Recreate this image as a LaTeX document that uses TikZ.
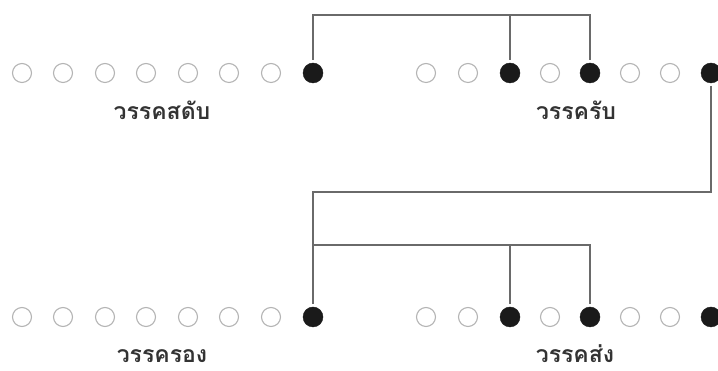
\documentclass[tikz,border=0pt]{standalone}
\usepackage{fontspec}
\newfontfamily\thaifont[Script=Thai]{Loma}
\definecolor{linegray}{HTML}{6A6A6A}
\definecolor{ringgray}{HTML}{B4B4B4}
\definecolor{dotblack}{HTML}{1A1A1A}
\begin{document}
\begin{tikzpicture}[x=1pt,y=1pt,
  open/.style={circle,draw=ringgray,line width=1.1pt,minimum size=19pt,inner sep=0pt,outer sep=4pt},
  full/.style={circle,fill=dotblack,draw=dotblack,minimum size=20pt,inner sep=0pt,outer sep=3pt},
  conn/.style={draw=linegray,line width=1.1pt},
  lbl/.style={font=\thaifont\bfseries\fontsize{23}{26}\selectfont,text=black!80,inner sep=0pt,text depth=0pt,anchor=base}]
\useasboundingbox (0,0) rectangle (718,371);
% top row
\foreach \i/\x in {1/22,2/63,3/105,4/146,5/188,6/229,7/271}
  \node[open] (t\i) at (\x,298) {};
\node[full] (t8) at (313,298) {};
\foreach \i/\x in {1/426,2/468,4/550,6/630,7/670}
  \node[open] (r\i) at (\x,298) {};
\node[full] (r3) at (510,298) {};
\node[full] (r5) at (590,298) {};
\node[full] (r8) at (711,298) {};
% bottom row
\foreach \i/\x in {1/22,2/63,3/105,4/146,5/188,6/229,7/271}
  \node[open] (b\i) at (\x,54) {};
\node[full] (b8) at (313,54) {};
\foreach \i/\x in {1/426,2/468,4/550,6/630,7/670}
  \node[open] (c\i) at (\x,54) {};
\node[full] (c3) at (510,54) {};
\node[full] (c5) at (590,54) {};
\node[full] (c8) at (711,54) {};
% labels
\node[lbl] (l1) at (162,251) {วรรคสดับ};
\node[lbl] (l2) at (576,251) {วรรครับ};
\node[lbl] (l3) at (162,8) {วรรครอง};
\node[lbl] (l4) at (575,8) {วรรคส่ง};
% connectors
\coordinate (topbar) at (0,356);
\coordinate (midbar) at (0,179);
\coordinate (lowbar) at (0,126);
\draw[conn] (t8.north) -- (t8.north |- topbar) -| (r5.north);
\draw[conn] (r3.north) -- (r3.north |- topbar);
\draw[conn] (r8.south) -- (r8.south |- midbar) -| (b8.north);
\draw[conn] (b8.north |- lowbar) -| (c5.north);
\draw[conn] (c3.north) -- (c3.north |- lowbar);
\end{tikzpicture}
\end{document}
